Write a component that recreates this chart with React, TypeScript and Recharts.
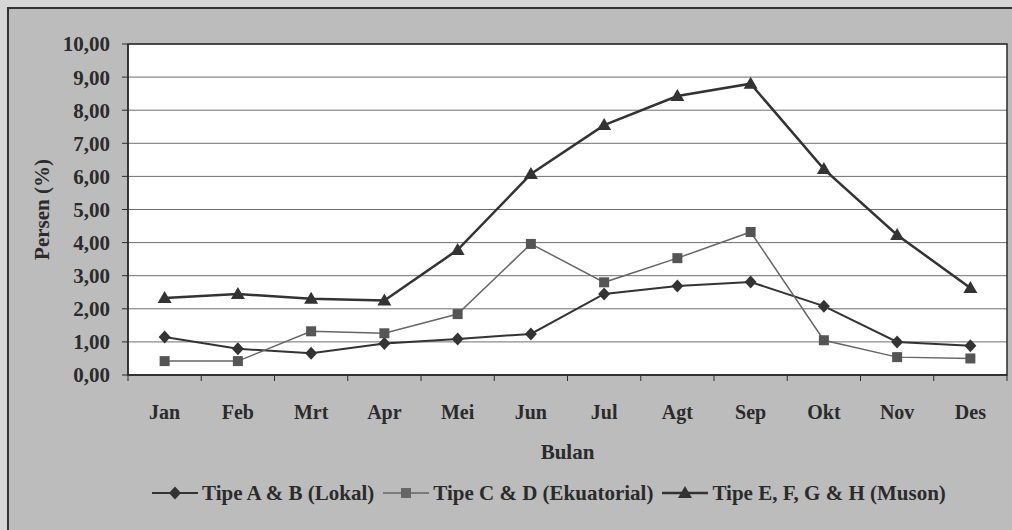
import React from 'react'
import {
  CartesianGrid,
  Legend,
  Line,
  LineChart,
  ReferenceArea,
  XAxis,
  YAxis,
} from 'recharts'

const months = ['Jan', 'Feb', 'Mrt', 'Apr', 'Mei', 'Jun', 'Jul', 'Agt', 'Sep', 'Okt', 'Nov', 'Des']
const lokal = [1.15, 0.79, 0.66, 0.95, 1.09, 1.24, 2.45, 2.69, 2.81, 2.08, 1.0, 0.88]
const ekuatorial = [0.42, 0.42, 1.32, 1.26, 1.84, 3.96, 2.8, 3.53, 4.32, 1.05, 0.54, 0.5]
const muson = [2.33, 2.45, 2.3, 2.25, 3.78, 6.07, 7.55, 8.43, 8.8, 6.22, 4.23, 2.63]
const yTicks = [0, 1, 2, 3, 4, 5, 6, 7, 8, 9, 10]

const seriesNames = {
  lokal: 'Tipe A & B (Lokal)',
  ekuatorial: 'Tipe C & D (Ekuatorial)',
  muson: 'Tipe E, F, G & H (Muson)',
}

const data = months.map((m, i) => ({
  month: m,
  lokal: lokal[i],
  ekuatorial: ekuatorial[i],
  muson: muson[i],
}))

const FONT = '"Liberation Serif", "Times New Roman", serif'
const INK = '#2b2b2b'

const Diamond = ({ cx, cy, fill }: any) => (
  <polygon points={`${cx},${cy - 6.5} ${cx + 6},${cy} ${cx},${cy + 6.5} ${cx - 6},${cy}`} fill={fill} />
)
const Square = ({ cx, cy, fill }: any) => (
  <rect x={cx - 5} y={cy - 5} width={10} height={10} fill={fill} />
)
const Triangle = ({ cx, cy, fill }: any) => (
  <polygon points={`${cx},${cy - 7} ${cx + 7},${cy + 5} ${cx - 7},${cy + 5}`} fill={fill} />
)

const MonthTick = ({ x, y, payload, index, visibleTicksCount }: any) => {
  const half = payload?.offset ?? 0
  return (
    <g>
      {half > 0 && <line x1={x - half} x2={x - half} y1={y - 6} y2={y} stroke={INK} strokeWidth={1} />}
      {half > 0 && index === visibleTicksCount - 1 && (
        <line x1={x + half} x2={x + half} y1={y - 6} y2={y} stroke={INK} strokeWidth={1} />
      )}
      <text x={x} y={y + 38} textAnchor="middle" fontFamily={FONT} fontWeight="bold" fontSize={20} fill={INK}>
        {payload.value}
      </text>
    </g>
  )
}

const BulanLabel = ({ viewBox }: any) => (
  <text
    x={viewBox.x + viewBox.width / 2}
    y={viewBox.y + 84}
    textAnchor="middle"
    fontFamily={FONT}
    fontWeight="bold"
    fontSize={21}
    fill={INK}
  >
    Bulan
  </text>
)

const PersenLabel = ({ viewBox }: any) => {
  const cx = 42
  const cy = viewBox.y + viewBox.height / 2
  return (
    <text
      x={cx}
      y={cy}
      transform={`rotate(-90, ${cx}, ${cy})`}
      textAnchor="middle"
      dominantBaseline="central"
      fontFamily={FONT}
      fontWeight="bold"
      fontSize={21}
      fill={INK}
    >
      Persen (%)
    </text>
  )
}

const legendItems = [
  { key: 'lokal', color: '#333', width: 2, Marker: Diamond },
  { key: 'ekuatorial', color: '#666', width: 1.5, Marker: Square },
  { key: 'muson', color: '#333', width: 2.5, Marker: Triangle },
]

const ChartLegend = () => (
  <div style={{ display: 'flex', alignItems: 'center', paddingLeft: 152, height: 26 }}>
    {legendItems.map(({ key, color, width, Marker }) => (
      <div key={key} style={{ display: 'flex', alignItems: 'center', marginRight: 9 }}>
        <svg width={46} height={20}>
          <line x1={0} x2={46} y1={10} y2={10} stroke={color} strokeWidth={width} />
          <Marker cx={23} cy={10} fill={color} />
        </svg>
        <span
          style={{
            fontFamily: FONT,
            fontWeight: 'bold',
            fontSize: 21,
            color: INK,
            marginLeft: 4,
            whiteSpace: 'nowrap',
          }}
        >
          {seriesNames[key as keyof typeof seriesNames]}
        </span>
      </div>
    ))}
  </div>
)

const fmt = (v: number) => v.toFixed(2).replace('.', ',')

export default function App() {
  return (
    <div
      style={{
        position: 'absolute',
        left: 0,
        top: 0,
        width: 1012,
        height: 530,
        overflow: 'hidden',
        background: '#d6d6d6',
      }}
    >
      <div
        style={{
          position: 'absolute',
          left: 7,
          top: 7,
          width: 1020,
          height: 540,
          background: '#bcbcbc',
          borderLeft: '2px solid #333',
          borderTop: '2px solid #333',
        }}
      />
      <div style={{ position: 'absolute', left: 0, top: 0 }}>
        <LineChart width={1012} height={530} data={data} margin={{ top: 44, right: 5, left: 0, bottom: 24 }}>
          <CartesianGrid vertical={false} stroke="#6e6e6e" strokeWidth={1} fill="#ffffff" fillOpacity={1} />
          <XAxis
            dataKey="month"
            scale="band"
            height={105}
            tickLine={false}
            tickSize={6}
            tickMargin={0}
            interval={0}
            axisLine={{ stroke: INK, strokeWidth: 1.5 }}
            tick={<MonthTick />}
            label={<BulanLabel />}
          />
          <YAxis
            width={128}
            domain={[0, 10]}
            ticks={yTicks}
            tickFormatter={fmt}
            interval={0}
            tickSize={6}
            tickMargin={12}
            tickLine={{ stroke: INK }}
            axisLine={{ stroke: INK, strokeWidth: 1.5 }}
            tick={{ fontFamily: FONT, fontWeight: 'bold', fontSize: 21, fill: INK }}
            label={<PersenLabel />}
          />
          <ReferenceArea y1={0} y2={10} fill="none" stroke={INK} strokeWidth={1.5} ifOverflow="visible" />
          <Line
            dataKey="lokal"
            name={seriesNames.lokal}
            type="linear"
            stroke="#333"
            strokeWidth={2}
            dot={(p: any) => <Diamond key={`d${p.index}`} cx={p.cx} cy={p.cy} fill="#333" />}
            activeDot={false}
            isAnimationActive={false}
          />
          <Line
            dataKey="ekuatorial"
            name={seriesNames.ekuatorial}
            type="linear"
            stroke="#666"
            strokeWidth={1.5}
            dot={(p: any) => <Square key={`s${p.index}`} cx={p.cx} cy={p.cy} fill="#555" />}
            activeDot={false}
            isAnimationActive={false}
          />
          <Line
            dataKey="muson"
            name={seriesNames.muson}
            type="linear"
            stroke="#333"
            strokeWidth={2.5}
            dot={(p: any) => <Triangle key={`t${p.index}`} cx={p.cx} cy={p.cy} fill="#333" />}
            activeDot={false}
            isAnimationActive={false}
          />
          <Legend verticalAlign="bottom" content={<ChartLegend />} wrapperStyle={{ left: 0, width: 1012 }} />
        </LineChart>
      </div>
    </div>
  )
}
